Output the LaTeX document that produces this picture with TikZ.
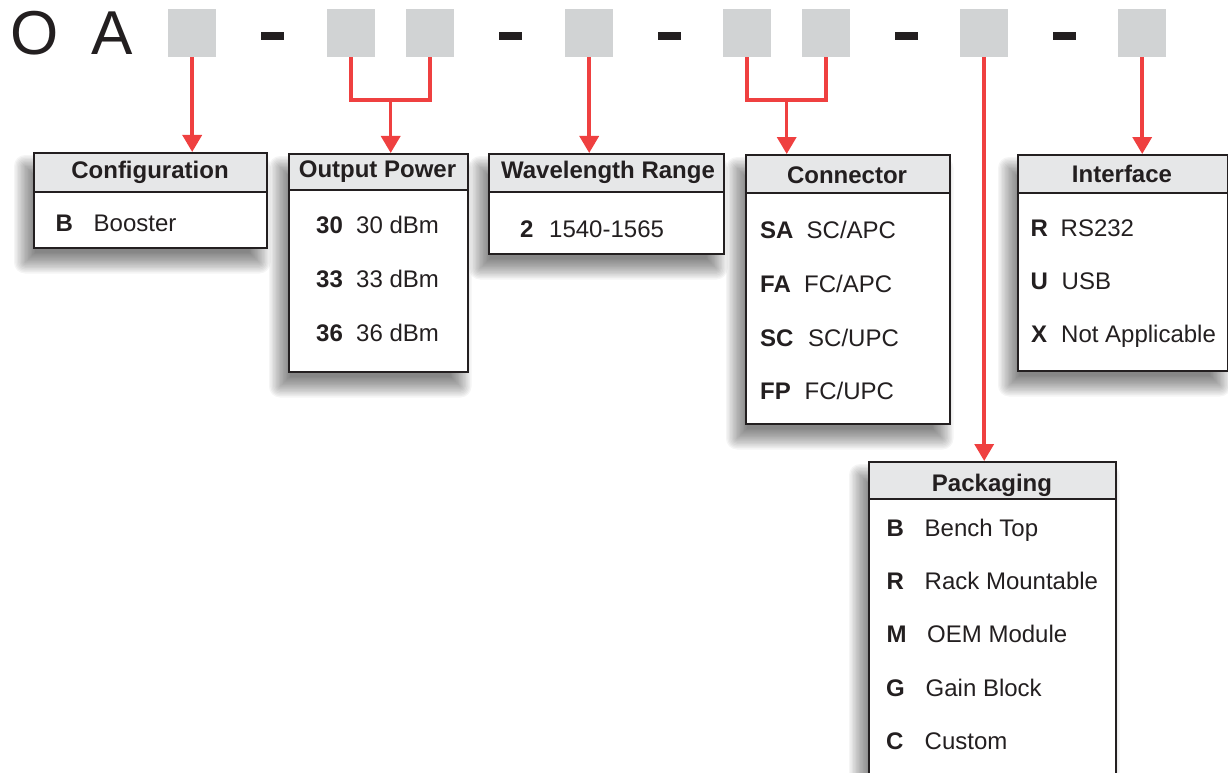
\documentclass[tikz,border=0pt]{standalone}
\usepackage{fontspec}
\setmainfont{Liberation Sans}
\usetikzlibrary{arrows.meta,calc,backgrounds}
\definecolor{sq}{HTML}{D1D3D4}
\definecolor{hd}{HTML}{E6E7E8}
\definecolor{rd}{HTML}{EF4040}
\definecolor{ln}{HTML}{231F20}
\tikzset{
 sqbox/.style={fill=sq, minimum width=48pt, minimum height=48pt, inner sep=0pt, anchor=north west},
 dashbar/.style={fill=ln, minimum width=23pt, minimum height=8pt, inner sep=0pt},
 bigletter/.style={anchor=base, inner sep=0pt, text=ln, font=\fontsize{62}{70}\selectfont},
 panel/.style={draw=ln, line width=1.5pt, fill=white, anchor=north west, inner sep=0pt},
 phead/.style={draw=ln, line width=1.5pt, fill=hd, anchor=north west, inner sep=0pt},
 htext/.style={anchor=base, inner sep=0pt, text=ln, font=\fontsize{24}{28}\selectfont\bfseries},
 code/.style={anchor=base west, inner sep=0pt, text=ln, font=\fontsize{24}{28}\selectfont\bfseries},
 desc/.style={anchor=base west, inner sep=0pt, text=ln, font=\fontsize{24}{28}\selectfont},
 redline/.style={draw=rd, line width=3.5pt, line join=miter},
 redarrow/.style={redline, -{Triangle[length=17pt,width=19pt]}},
 shadowstep/.style={fill=black, fill opacity=0.04},
}
\newcommand\panelshadow[1]{%
  \foreach \e in {11,9.6,...,-10} {%
    \pgfmathsetmacro\rc{max(\e,0)+0.01}%
    \fill[shadowstep, rounded corners=\rc pt]
      ($(#1.north west)+(-8-\e,14-\e)$) rectangle ($(#1.south east)+(-8+\e,14+\e)$);
  }}
\begin{document}
\begin{tikzpicture}[x=1pt,y=-1pt]
\useasboundingbox (0,0) rectangle (1228,773);

% part number row
\node[bigletter] (lo) at (34.5,55) {O};
\node[bigletter] (la) at (112,55) {A};
\node[sqbox] (s1) at (168,9) {};
\node[dashbar] (d1) at (272.5,36) {};
\node[sqbox] (s2) at (327,9) {};
\node[sqbox] (s3) at (406,9) {};
\node[dashbar] (d2) at (510.5,36) {};
\node[sqbox] (s4) at (565,9) {};
\node[dashbar] (d3) at (669,36) {};
\node[sqbox] (s5) at (723,9) {};
\node[sqbox] (s6) at (802,9) {};
\node[dashbar] (d4) at (906.5,36) {};
\node[sqbox] (s7) at (960,9) {};
\node[dashbar] (d5) at (1064,36) {};
\node[sqbox] (s8) at (1118,9) {};

% Configuration
\node[panel, minimum width=233pt, minimum height=95pt] (cfg) at (33,152) {};
\node[phead, minimum width=233pt, minimum height=39pt] (cfgh) at (cfg.north west) {};
\node[htext] (cfgt) at (150,178) {Configuration};
\node[code] (cfg1a) at (55.5,231) {B};
\node[desc] (cfg1b) at (93.5,231) {Booster};

% Output Power
\node[panel, minimum width=179pt, minimum height=218pt] (op) at (288,153) {};
\node[phead, minimum width=179pt, minimum height=36pt] (oph) at (op.north west) {};
\node[htext] (opt) at (377.5,177.5) {Output Power};
\node[code] (op1a) at (316,233) {30};
\node[desc] (op1b) at (356,233) {30 dBm};
\node[code] (op2a) at (316,287) {33};
\node[desc] (op2b) at (356,287) {33 dBm};
\node[code] (op3a) at (316,341) {36};
\node[desc] (op3b) at (356,341) {36 dBm};

% Wavelength Range
\node[panel, minimum width=235pt, minimum height=100pt] (wl) at (488,153) {};
\node[phead, minimum width=235pt, minimum height=38pt] (wlh) at (wl.north west) {};
\node[htext] (wlt) at (608,178.5) {Wavelength Range};
\node[code] (wl1a) at (520,237) {2};
\node[desc] (wl1b) at (549,237) {1540-1565};

% Connector
\node[panel, minimum width=204pt, minimum height=269pt] (cn) at (745,154) {};
\node[phead, minimum width=204pt, minimum height=38pt] (cnh) at (cn.north west) {};
\node[htext] (cnt) at (847,183.5) {Connector};
\node[code] (cn1a) at (760,238) {SA};
\node[desc] (cn1b) at (806.5,238) {SC/APC};
\node[code] (cn2a) at (760,292) {FA};
\node[desc] (cn2b) at (804,292) {FC/APC};
\node[code] (cn3a) at (760,346) {SC};
\node[desc] (cn3b) at (808,346) {SC/UPC};
\node[code] (cn4a) at (760,399) {FP};
\node[desc] (cn4b) at (804.5,399) {FC/UPC};

% Interface
\node[panel, minimum width=209.5pt, minimum height=216pt] (itf) at (1017,154) {};
\node[phead, minimum width=209.5pt, minimum height=38pt] (itfh) at (itf.north west) {};
\node[htext] (itft) at (1122,182) {Interface};
\node[code] (itf1a) at (1030.5,236) {R};
\node[desc] (itf1b) at (1060.5,236) {RS232};
\node[code] (itf2a) at (1030.5,289) {U};
\node[desc] (itf2b) at (1061.5,289) {USB};
\node[code] (itf3a) at (1031,342) {X};
\node[desc] (itf3b) at (1061,342) {Not Applicable};

% Packaging
\node[panel, minimum width=247pt, minimum height=359pt] (pk) at (868,461) {};
\node[phead, minimum width=247pt, minimum height=37pt] (pkh) at (pk.north west) {};
\node[htext] (pkt) at (992,491.5) {Packaging};
\node[code] (pk1a) at (886.5,536) {B};
\node[desc] (pk1b) at (924.5,536) {Bench Top};
\node[code] (pk2a) at (886.5,589) {R};
\node[desc] (pk2b) at (924.5,589) {Rack Mountable};
\node[code] (pk3a) at (886.5,642) {M};
\node[desc] (pk3b) at (927,642) {OEM Module};
\node[code] (pk4a) at (886,696) {G};
\node[desc] (pk4b) at (925.5,696) {Gain Block};
\node[code] (pk5a) at (886,749) {C};
\node[desc] (pk5b) at (924.5,749) {Custom};

% shadows
\begin{pgfonlayer}{background}
\panelshadow{cfg}
\panelshadow{op}
\panelshadow{wl}
\panelshadow{cn}
\panelshadow{itf}
\panelshadow{pk}
\end{pgfonlayer}

% connectors
\draw[redarrow] (s1.south) -- (s1.south |- cfg.north);
\coordinate (j1) at ($(s2.south)!0.5!(s3.south)$);
\draw[redline] (s2.south) -- (s2.south |- 0,100) -- (s3.south |- 0,100) -- (s3.south);
\draw[redarrow] (j1 |- 0,100) -- (j1 |- op.north);
\draw[redarrow] (s4.south) -- (s4.south |- wl.north);
\coordinate (j2) at ($(s5.south)!0.5!(s6.south)$);
\draw[redline] (s5.south) -- (s5.south |- 0,100) -- (s6.south |- 0,100) -- (s6.south);
\draw[redarrow] (j2 |- 0,100) -- (j2 |- cn.north);
\draw[redarrow] (s7.south) -- (s7.south |- pk.north);
\draw[redarrow] (s8.south) -- (s8.south |- itf.north);
\end{tikzpicture}
\end{document}
